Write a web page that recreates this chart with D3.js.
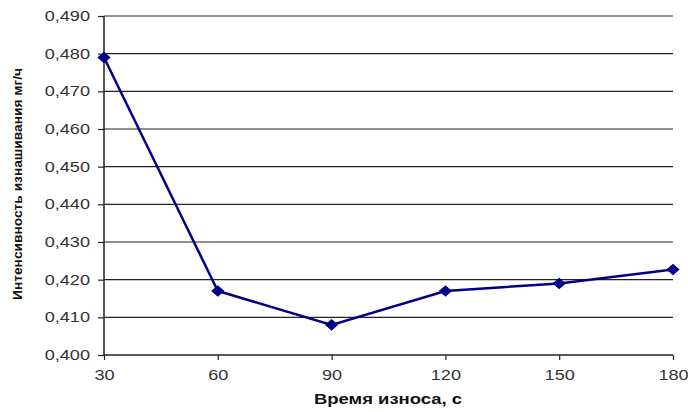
<!DOCTYPE html>
<html><head><meta charset="utf-8">
<script src="https://cdn.jsdelivr.net/npm/d3@7"></script>
<style>body{margin:0;background:#fff}svg{display:block}</style>
</head><body>
<svg id="c" width="688" height="412"></svg>
<script>
const times = [30, 60, 90, 120, 150, 180];
const intensity = [0.479, 0.417, 0.408, 0.417, 0.419, 0.4227];
const yTicks = [0.400, 0.410, 0.420, 0.430, 0.440, 0.450, 0.460, 0.470, 0.480, 0.490];
const xTitle = "Время износа, с";
const yTitle = "Интенсивность изнашивания мг/ч";

const svg = d3.select("#c");
const L = 104, R = 673, T = 16, B = 355;
const x = d3.scaleLinear().domain([30, 180]).range([L, R]);
const y = d3.scaleLinear().domain([0.400, 0.490]).range([B, T]);
const fmt = d => d3.format(".3f")(d).replace(".", ",");

// gridlines
svg.append("g").selectAll("line").data(yTicks.slice(1)).join("line")
  .attr("x1", L).attr("x2", R).attr("y1", d => y(d)).attr("y2", d => y(d))
  .attr("stroke", "#222").attr("stroke-width", 1.2);

const font = "'Liberation Sans', Arial, sans-serif";
const yAxis = svg.append("g").attr("transform", `translate(${L},0)`)
  .call(d3.axisLeft(y).tickValues(yTicks).tickFormat(fmt).tickSize(6).tickPadding(8));
const xAxis = svg.append("g").attr("transform", `translate(0,${B})`)
  .call(d3.axisBottom(x).tickValues(times).tickSize(5).tickPadding(10));
[yAxis, xAxis].forEach(g => {
  g.select(".domain").attr("stroke", "#222").attr("stroke-width", 1.5);
  g.selectAll(".tick line").attr("stroke", "#222").attr("stroke-width", 1.2);
  g.selectAll("text").attr("font-family", font).attr("font-size", 14.5).attr("fill", "#333")
    .each(function() {
      const w = this.getComputedTextLength();
      d3.select(this).attr("textLength", w * 1.25).attr("lengthAdjust", "spacingAndGlyphs");
    });
});
xAxis.select(".domain").attr("d", `M${L},0H${R}`);
yAxis.select(".domain").attr("d", `M0,${B}V${T}`);

// line
const pts = times.map((t, i) => [t, intensity[i]]);
svg.append("path").datum(pts)
  .attr("d", d3.line().x(d => x(d[0])).y(d => y(d[1])))
  .attr("fill", "none").attr("stroke", "#000088").attr("stroke-width", 2.5);
svg.append("g").selectAll("path").data(pts).join("path")
  .attr("transform", d => `translate(${x(d[0])},${y(d[1])}) scale(1.15,1)`)
  .attr("d", d3.symbol(d3.symbolDiamond2, 85))
  .attr("fill", "#000088");

// titles
svg.append("text").attr("x", 388).attr("y", 404).attr("text-anchor", "middle")
  .attr("font-family", font).attr("font-size", 15).attr("font-weight", "bold").attr("fill", "#111")
  .attr("textLength", 148).attr("lengthAdjust", "spacingAndGlyphs")
  .text(xTitle);
svg.append("text").attr("transform", "translate(22,184) rotate(-90)").attr("text-anchor", "middle")
  .attr("font-family", font).attr("font-size", 12).attr("font-weight", "bold").attr("fill", "#111")
  .attr("textLength", 232).attr("lengthAdjust", "spacingAndGlyphs")
  .text(yTitle);
</script>
</body></html>
